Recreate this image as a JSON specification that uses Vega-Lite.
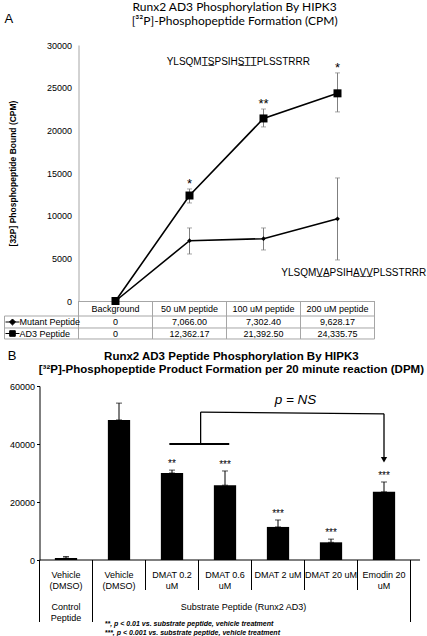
{
  "$schema": "https://vega.github.io/schema/vega-lite/v6.json",
  "padding": {"left": 2.5, "top": 1, "right": 0, "bottom": 0},
  "bounds": "flush",
  "spacing": 341,
  "config": {"view": {"stroke": null}, "font": "Liberation Sans", "text": {"font": "Liberation Sans", "color": "#000"}},
  "datasets": {
    "a": [
      {"series": "Mutant Peptide", "cat": "Background", "value": 0, "lo": null, "hi": null, "star": ""},
      {"series": "Mutant Peptide", "cat": "50 uM peptide", "value": 7066.00, "lo": 5510, "hi": 8560, "star": ""},
      {"series": "Mutant Peptide", "cat": "100 uM peptide", "value": 7302.40, "lo": 5980, "hi": 8560, "star": ""},
      {"series": "Mutant Peptide", "cat": "200 uM peptide", "value": 9628.17, "lo": 4810, "hi": 14420, "star": ""},
      {"series": "AD3 Peptide", "cat": "Background", "value": 0, "lo": null, "hi": null, "star": ""},
      {"series": "AD3 Peptide", "cat": "50 uM peptide", "value": 12362.17, "lo": 11490, "hi": 13130, "star": "*"},
      {"series": "AD3 Peptide", "cat": "100 uM peptide", "value": 21392.50, "lo": 20400, "hi": 22500, "star": "**"},
      {"series": "AD3 Peptide", "cat": "200 uM peptide", "value": 24335.75, "lo": 22160, "hi": 26730, "star": "*"}
    ],
    "b": [
      {"key": "c_veh", "label": "Vehicle|(DMSO)", "value": 700, "hi": 1200, "star": ""},
      {"key": "veh", "label": "Vehicle|(DMSO)", "value": 48300, "hi": 54100, "star": ""},
      {"key": "d02", "label": "DMAT 0.2|uM", "value": 30000, "hi": 31000, "star": "**"},
      {"key": "d06", "label": "DMAT 0.6|uM", "value": 25800, "hi": 30700, "star": "***"},
      {"key": "d2", "label": "DMAT 2 uM", "value": 11400, "hi": 13800, "star": "***"},
      {"key": "d20", "label": "DMAT 20 uM", "value": 6100, "hi": 7200, "star": "***"},
      {"key": "emo", "label": "Emodin 20|uM", "value": 23500, "hi": 26900, "star": "***"}
    ]
  },
  "vconcat": [
    {
      "hconcat": [
        {
          "width": 39,
          "height": 10,
          "data": {"values": []},
          "mark": {"type": "point", "opacity": 0},
          "encoding": {}
        },
        {
          "width": 296,
          "height": 256,
          "layer": [
            {
              "data": {"name": "a"},
              "mark": {"type": "line", "color": "#000", "strokeWidth": 1.6},
              "encoding": {
                "x": {"field": "cat", "type": "nominal", "sort": null,
                  "scale": {"type": "band", "domain": ["Background", "50 uM peptide", "100 uM peptide", "200 uM peptide"], "paddingInner": 0, "paddingOuter": 0},
                  "axis": {"title": null, "domain": true, "domainColor": "#a6a6a6", "ticks": false, "tickSize": 0, "labelPadding": 3, "labelFontSize": 9, "labelColor": "#000", "labelAngle": 0}},
                "y": {"field": "value", "type": "quantitative", "title": "[32P] Phosphopeptide Bound (CPM)",
                  "scale": {"domain": [0, 30000], "nice": false},
                  "axis": {"titleFontSize": 8.5, "titleFontWeight": "bold", "titleColor": "#000", "titlePadding": 29, "domainColor": "#a6a6a6", "ticks": false, "tickSize": 0, "labelPadding": 7, "labelFontSize": 9, "labelColor": "#000", "format": "d", "values": [0, 5000, 10000, 15000, 20000, 25000, 30000], "grid": false}},
                "detail": {"field": "series"}
              }
            },
            {
              "data": {"name": "a"},
              "transform": [{"filter": "datum.lo != null"}],
              "mark": {"type": "errorbar", "color": "#7f7f7f", "ticks": {"size": 5}, "thickness": 1},
              "encoding": {
                "x": {"field": "cat", "type": "nominal"},
                "y": {"field": "lo", "type": "quantitative", "title": "[32P] Phosphopeptide Bound (CPM)"},
                "y2": {"field": "hi"}
              }
            },
            {
              "data": {"name": "a"},
              "transform": [{"filter": "datum.series == 'AD3 Peptide'"}],
              "mark": {"type": "point", "shape": "square", "filled": true, "color": "#000", "size": 64, "opacity": 1},
              "encoding": {"x": {"field": "cat", "type": "nominal"}, "y": {"field": "value", "type": "quantitative"}}
            },
            {
              "data": {"name": "a"},
              "transform": [{"filter": "datum.series == 'Mutant Peptide'"}],
              "mark": {"type": "point", "shape": "diamond", "filled": true, "color": "#000", "size": 22, "opacity": 1},
              "encoding": {"x": {"field": "cat", "type": "nominal"}, "y": {"field": "value", "type": "quantitative"}}
            },
            {
              "data": {"name": "a"},
              "transform": [{"filter": "datum.star != ''"}],
              "mark": {"type": "text", "fontSize": 13, "baseline": "alphabetic", "dy": -1, "color": "#000"},
              "encoding": {"x": {"field": "cat", "type": "nominal"}, "y": {"field": "hi", "type": "quantitative", "title": "[32P] Phosphopeptide Bound (CPM)"}, "text": {"field": "star"}}
            },
            {
              "data": {"values": [{}]},
              "mark": {"type": "text", "text": "Runx2 AD3 Phosphorylation By HIPK3\n[³²P]-Phosphopeptide Formation (CPM)", "lineBreak": "\n", "font": "Lato", "fontSize": 12, "align": "center", "baseline": "alphabetic", "lineHeight": 13.5},
              "encoding": {"x": {"datum": "100 uM peptide", "bandPosition": 0.11}, "y": {"datum": 33926}}
            },
            {
              "data": {"values": [{}]},
              "mark": {"type": "text", "text": "A", "fontSize": 13, "align": "left", "baseline": "middle"},
              "encoding": {"x": {"datum": "Background", "bandPosition": -1}, "y": {"datum": 33105}}
            },
            {
              "data": {"values": [{}]},
              "mark": {"type": "text", "text": "YLSQMT\u0332S\u0332PSIHS\u0332T\u0332T\u0332PLSSTRRR", "fontSize": 10, "align": "center", "baseline": "middle"},
              "encoding": {"x": {"datum": "100 uM peptide", "bandPosition": 0.16}, "y": {"datum": 28000}}
            },
            {
              "data": {"values": [{}]},
              "mark": {"type": "text", "text": "YLSQMV\u0332A\u0332PSIHA\u0332V\u0332V\u0332PLSSTRRR", "fontSize": 10, "align": "center", "baseline": "middle"},
              "encoding": {"x": {"datum": "200 uM peptide", "bandPosition": 0.72}, "y": {"datum": 3280}}
            },
            {
              "data": {"values": [{}]},
              "mark": {"type": "rule", "color": "#a6a6a6"},
              "encoding": {"x": {"datum": "Background", "bandPosition": -1}, "x2": {"datum": "200 uM peptide", "bandPosition": 1}, "y": {"datum": -1758}}
            },
            {
              "data": {"values": [{}]},
              "mark": {"type": "rule", "color": "#a6a6a6"},
              "encoding": {"x": {"datum": "Background", "bandPosition": -1}, "x2": {"datum": "200 uM peptide", "bandPosition": 1}, "y": {"datum": -3164}}
            },
            {
              "data": {"values": [{}]},
              "mark": {"type": "rule", "color": "#a6a6a6"},
              "encoding": {"x": {"datum": "Background", "bandPosition": -1}, "x2": {"datum": "200 uM peptide", "bandPosition": 1}, "y": {"datum": -4453}}
            },
            {
              "data": {"name": "a"},
              "transform": [{"filter": "datum.series == 'AD3 Peptide'"}],
              "mark": {"type": "rule", "color": "#a6a6a6"},
              "encoding": {"x": {"field": "cat", "type": "nominal", "bandPosition": 1}, "y": {"datum": 0}, "y2": {"datum": -4453}}
            },
            {
              "data": {"values": [{}]},
              "mark": {"type": "rule", "color": "#a6a6a6"},
              "encoding": {"x": {"datum": "Background", "bandPosition": 0}, "y": {"datum": 0}, "y2": {"datum": -4453}}
            },
            {
              "data": {"values": [{}]},
              "mark": {"type": "rule", "color": "#a6a6a6"},
              "encoding": {"x": {"datum": "Background", "bandPosition": -1}, "y": {"datum": -1758}, "y2": {"datum": -4453}}
            },
            {
              "data": {"name": "a"},
              "transform": [{"filter": "datum.series == 'Mutant Peptide'"}],
              "mark": {"type": "text", "fontSize": 9, "baseline": "middle"},
              "encoding": {"x": {"field": "cat", "type": "nominal"}, "y": {"datum": -2461},
                "text": {"condition": {"test": "datum.value == 0", "value": "0"}, "field": "value", "type": "quantitative", "format": ",.2f"}}
            },
            {
              "data": {"name": "a"},
              "transform": [{"filter": "datum.series == 'AD3 Peptide'"}],
              "mark": {"type": "text", "fontSize": 9, "baseline": "middle"},
              "encoding": {"x": {"field": "cat", "type": "nominal"}, "y": {"datum": -3809},
                "text": {"condition": {"test": "datum.value == 0", "value": "0"}, "field": "value", "type": "quantitative", "format": ",.2f"}}
            },
            {
              "data": {"values": [{}]},
              "mark": {"type": "text", "text": "Mutant Peptide", "fontSize": 9, "align": "left", "baseline": "middle"},
              "encoding": {"x": {"datum": "Background", "bandPosition": -0.797}, "y": {"datum": -2461}}
            },
            {
              "data": {"values": [{}]},
              "mark": {"type": "text", "text": "AD3 Peptide", "fontSize": 9, "align": "left", "baseline": "middle"},
              "encoding": {"x": {"datum": "Background", "bandPosition": -0.797}, "y": {"datum": -3809}}
            },
            {
              "data": {"values": [{}]},
              "mark": {"type": "point", "shape": "M-1,0L1,0M0,-0.43L0.43,0L0,0.43L-0.43,0Z", "size": 196, "filled": true, "fill": "#000", "stroke": "#000", "strokeWidth": 1, "opacity": 1},
              "encoding": {"x": {"datum": "Background", "bandPosition": -0.892}, "y": {"datum": -2461}}
            },
            {
              "data": {"values": [{}]},
              "mark": {"type": "point", "shape": "M-1,0L1,0M-0.4,-0.4L0.4,-0.4L0.4,0.4L-0.4,0.4Z", "size": 196, "filled": true, "fill": "#000", "stroke": "#000", "strokeWidth": 1, "opacity": 1},
              "encoding": {"x": {"datum": "Background", "bandPosition": -0.892}, "y": {"datum": -3809}}
            }
          ]
        }
      ],
      "spacing": 0,
      "bounds": "flush"
    },
    {
      "width": 371,
      "height": 174,
      "layer": [
        {
          "data": {"name": "b"},
          "mark": {"type": "bar", "color": "#000", "width": {"band": 0.42}},
          "encoding": {
            "x": {"field": "key", "type": "nominal", "sort": null,
              "scale": {"type": "band", "domain": ["c_veh", "veh", "d02", "d06", "d2", "d20", "emo"], "paddingInner": 0, "paddingOuter": 0},
              "axis": null},
            "y": {"field": "value", "type": "quantitative", "title": null,
              "scale": {"domain": [0, 60000], "nice": false},
              "axis": {"title": null, "domainColor": "#000", "tickColor": "#000", "tickSize": 3, "labelPadding": 2, "labelFontSize": 9, "labelColor": "#000", "format": "d", "values": [0, 10000, 20000, 30000, 40000, 50000, 60000], "grid": false}}
          }
        },
        {
          "data": {"name": "b"},
          "mark": {"type": "errorbar", "color": "#000", "ticks": {"size": 6}, "thickness": 1},
          "encoding": {"x": {"field": "key", "type": "nominal"}, "y": {"field": "value", "type": "quantitative", "title": null}, "y2": {"field": "hi"}}
        },
        {
          "data": {"name": "b"},
          "transform": [{"filter": "datum.star != ''"}],
          "mark": {"type": "text", "fontSize": 10, "baseline": "alphabetic", "dy": -3, "color": "#000"},
          "encoding": {"x": {"field": "key", "type": "nominal"}, "y": {"field": "hi", "type": "quantitative", "title": null}, "text": {"field": "star"}}
        },
        {
          "data": {"name": "b"},
          "mark": {"type": "text", "fontSize": 9, "baseline": "top", "dy": 11, "lineBreak": "|", "lineHeight": 10.5},
          "encoding": {"x": {"field": "key", "type": "nominal"}, "y": {"datum": 0}, "text": {"field": "label"}}
        },
        {
          "data": {"name": "b"},
          "transform": [{"filter": "indexof(['veh','d02','d06','d2','d20'], datum.key) >= 0"}],
          "mark": {"type": "rule", "color": "#000"},
          "encoding": {"x": {"field": "key", "type": "nominal", "bandPosition": 1}, "y": {"datum": 0}, "y2": {"datum": -10345}}
        },
        {
          "data": {"name": "b"},
          "transform": [{"filter": "datum.key == 'c_veh' || datum.key == 'emo'"}],
          "mark": {"type": "rule", "color": "#000"},
          "encoding": {"x": {"field": "key", "type": "nominal", "bandPosition": 1}, "y": {"datum": 0}, "y2": {"datum": -21380}}
        },
        {
          "data": {"values": [{}]},
          "mark": {"type": "rule", "color": "#000"},
          "encoding": {"x": {"datum": "c_veh", "bandPosition": 0}, "y": {"datum": 0}, "y2": {"datum": -21380}}
        },
        {
          "data": {"values": [{}]},
          "mark": {"type": "rule", "color": "#000"},
          "encoding": {"x": {"datum": "c_veh", "bandPosition": 0}, "x2": {"datum": "emo", "bandPosition": 1.18}, "y": {"datum": 0}}
        },
        {
          "data": {"values": [{}]},
          "mark": {"type": "text", "text": "Runx2 AD3 Peptide Phosphorylation By HIPK3\n[³²P]-Phosphopeptide Product Formation per 20 minute reaction (DPM)", "lineBreak": "\n", "fontSize": 11.5, "fontWeight": "bold", "align": "center", "baseline": "alphabetic", "lineHeight": 13},
          "encoding": {"x": {"datum": "d06", "bandPosition": 0.62}, "y": {"datum": 68966}}
        },
        {
          "data": {"values": [{}]},
          "mark": {"type": "text", "text": "B", "fontSize": 13, "align": "left", "baseline": "middle"},
          "encoding": {"x": {"datum": "c_veh", "bandPosition": -0.6}, "y": {"datum": 70345}}
        },
        {
          "data": {"values": [{}]},
          "mark": {"type": "text", "text": "Control\nPeptide", "lineBreak": "\n", "fontSize": 9, "baseline": "top", "dy": 43, "lineHeight": 10.5},
          "encoding": {"x": {"datum": "c_veh", "bandPosition": 0.5}, "y": {"datum": 0}}
        },
        {
          "data": {"values": [{}]},
          "mark": {"type": "text", "text": "Substrate Peptide (Runx2 AD3)", "fontSize": 9, "baseline": "top", "dy": 43},
          "encoding": {"x": {"datum": "d06", "bandPosition": 0.85}, "y": {"datum": 0}}
        },
        {
          "data": {"values": [{}]},
          "mark": {"type": "text", "text": "**, p < 0.01 vs. substrate peptide, vehicle treatment\n***, p < 0.001 vs. substrate peptide, vehicle treatment", "lineBreak": "\n", "fontSize": 7, "fontStyle": "italic", "fontWeight": "bold", "align": "left", "baseline": "top", "dy": 59.5, "lineHeight": 9},
          "encoding": {"x": {"datum": "veh", "bandPosition": 0.23}, "y": {"datum": 0}}
        },
        {
          "data": {"values": [{}]},
          "mark": {"type": "rule", "color": "#000", "strokeWidth": 2},
          "encoding": {"x": {"datum": "d02", "bandPosition": 0.45}, "x2": {"datum": "d06", "bandPosition": 0.58}, "y": {"datum": 40000}}
        },
        {
          "data": {"values": [{}]},
          "mark": {"type": "rule", "color": "#000", "strokeWidth": 1.3},
          "encoding": {"x": {"datum": "d06", "bandPosition": 0.04}, "y": {"datum": 40000}, "y2": {"datum": 51000}}
        },
        {
          "data": {"values": [{}]},
          "mark": {"type": "rule", "color": "#000", "strokeWidth": 1.3},
          "encoding": {"x": {"datum": "d06", "bandPosition": 0.04}, "x2": {"datum": "emo", "bandPosition": 0.5}, "y": {"datum": 51000}, "y2": {"datum": 50400}}
        },
        {
          "data": {"values": [{}]},
          "mark": {"type": "rule", "color": "#000", "strokeWidth": 1.3},
          "encoding": {"x": {"datum": "emo", "bandPosition": 0.5}, "y": {"datum": 50400}, "y2": {"datum": 35000}}
        },
        {
          "data": {"values": [{}]},
          "mark": {"type": "point", "shape": "triangle-down", "size": 40, "filled": true, "color": "#000", "opacity": 1},
          "encoding": {"x": {"datum": "emo", "bandPosition": 0.5}, "y": {"datum": 34600}}
        },
        {
          "data": {"values": [{}]},
          "mark": {"type": "text", "text": "p = NS", "fontSize": 13.5, "fontStyle": "italic", "baseline": "middle"},
          "encoding": {"x": {"datum": "d2", "bandPosition": 0.83}, "y": {"datum": 55170}}
        }
      ]
    }
  ]
}
